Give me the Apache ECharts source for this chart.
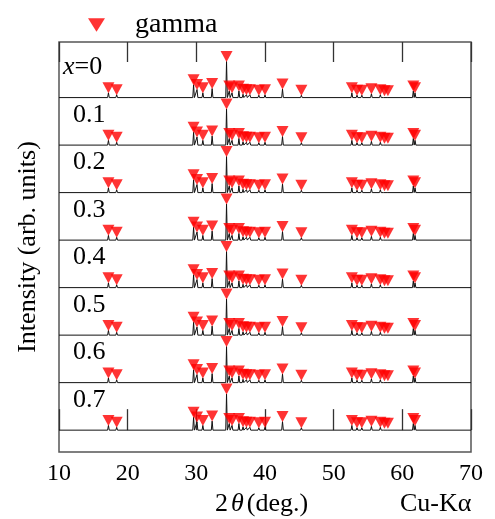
<!DOCTYPE html>
<html>
<head>
<meta charset="utf-8">
<script src="https://cdn.jsdelivr.net/npm/echarts@6/dist/echarts.min.js"></script>
<style>
  html, body { margin: 0; padding: 0; background: #fff; }
  #chart1 { width: 495px; height: 519px; }
</style>
</head>
<body>
<div id="chart1"></div>
<script>
// sample labels, top to bottom
const compositions = ['0', '0.1', '0.2', '0.3', '0.4', '0.5', '0.6', '0.7'];
// gamma peak positions (2theta, deg) and heights (arb.)
const peakPos = [17.2, 18.4, 29.6, 30.1, 30.95, 32.3, 34.4, 34.8, 35.2, 36.2, 36.8, 37.3, 37.8, 39.1, 40.0, 42.55, 45.3,
  52.65, 53.4, 54.1, 55.5, 56.8, 57.4, 57.9, 61.6, 61.85];
const peakHeight = [10, 6, 27, 17, 10, 19, 76, 14, 10, 14, 7, 6, 6, 5, 6, 18, 5,
  10, 5, 5, 8, 6, 4, 4, 14, 10];
const xTicks = [10, 20, 30, 40, 50, 60, 70];
const offsetStep = 100;

const serif = "'Liberation Serif', 'Times New Roman', serif";

const buildTrace = (off) => {
  const pts = [[10, off]];
  peakPos.forEach((p, i) => {
    pts.push([p - 0.12, off], [p, off + peakHeight[i]], [p + 0.12, off]);
  });
  pts.push([70, off]);
  return pts;
};

const getOptionChart1 = () => {
  const series = [];
  const marks = [];
  compositions.forEach((c, k) => {
    const off = (compositions.length - 1 - k) * offsetStep;
    series.push({
      type: 'line',
      data: buildTrace(off),
      showSymbol: false,
      silent: true,
      lineStyle: { color: '#111', width: 1 },
      z: 2
    });
    peakPos.forEach((p, i) => marks.push([p, off + peakHeight[i]]));
  });
  series.push({
    name: 'gamma',
    type: 'scatter',
    data: marks,
    symbol: 'triangle',
    symbolRotate: 180,
    symbolSize: [12, 11],
    symbolOffset: [0, -5],
    itemStyle: { color: '#ff0000' },
    z: 3
  });
  return {
    animation: false,
    textStyle: { fontFamily: serif },
    legend: {
      data: [{ name: 'gamma', icon: 'path://M0,0 L10,0 L5,8 Z' }],
      left: 83,
      top: 6,
      itemWidth: 17,
      itemHeight: 14,
      textStyle: { fontFamily: serif, fontSize: 28, color: '#000', padding: [0, 0, 0, 25] }
    },
    grid: {
      left: 59, right: 24, top: 42, bottom: 67,
      show: true, borderColor: '#555', borderWidth: 1.5
    },
    xAxis: [
      {
        type: 'value', min: 10, max: 70, interval: 10,
        axisLine: { show: false },
        splitLine: { show: false },
        axisTick: { inside: true, length: 21, lineStyle: { color: '#333', width: 1.3 } },
        axisLabel: {
          fontFamily: serif, fontSize: 24, color: '#000', margin: 10,
          formatter: (v) => (xTicks.indexOf(v) >= 0 ? String(v) : '')
        }
      },
      {
        type: 'value', min: 10, max: 70, interval: 10, position: 'top',
        axisLine: { show: false },
        splitLine: { show: false },
        axisTick: { inside: true, length: 20, lineStyle: { color: '#333', width: 1.3 } },
        axisLabel: { show: false }
      }
    ],
    yAxis: {
      type: 'value', min: -46, max: 817,
      axisLine: { show: false },
      axisTick: { show: false },
      axisLabel: { show: false },
      splitLine: { show: false },
      name: 'Intensity (arb. units)',
      nameLocation: 'middle',
      nameGap: 18,
      nameTextStyle: { fontFamily: serif, fontSize: 26, color: '#000' }
    },
    series
  };
};

const initCharts = () => {
  const chart1 = echarts.init(document.getElementById('chart1'));
  chart1.setOption(getOptionChart1());
  const graphics = [
    {
      type: 'text', left: 215, top: 491,
      style: {
        text: '2{t|θ}(deg.)', fontFamily: serif, fontSize: 26, fill: '#000',
        rich: { t: { fontFamily: serif, fontSize: 26, fontStyle: 'italic', fill: '#000', padding: [0, 3, 0, 3] } }
      }
    },
    {
      type: 'text', left: 400, top: 491,
      style: { text: 'Cu-Kα', fontFamily: serif, fontSize: 26, fill: '#000' }
    }
  ];
  // composition labels sit above each trace's baseline
  compositions.forEach((c, k) => {
    const off = (compositions.length - 1 - k) * offsetStep;
    const y = chart1.convertToPixel({ gridIndex: 0 }, [10, off])[1];
    graphics.push({
      type: 'text',
      left: k === 0 ? 63 : 73,
      top: y - 43,
      style: {
        text: k === 0 ? '{i|x}=' + c : c,
        fontFamily: serif, fontSize: 26, fill: '#000',
        rich: { i: { fontFamily: serif, fontSize: 26, fontStyle: 'italic', fill: '#000' } }
      }
    });
  });
  chart1.setOption({ graphic: graphics });
};

window.addEventListener('load', () => {
  const ready = document.fonts && document.fonts.load
    ? Promise.all([
        document.fonts.load('22px "Liberation Serif"'),
        document.fonts.load('italic 22px "Liberation Serif"')
      ])
    : Promise.resolve();
  ready.then(initCharts, initCharts);
});
</script>
</body>
</html>
